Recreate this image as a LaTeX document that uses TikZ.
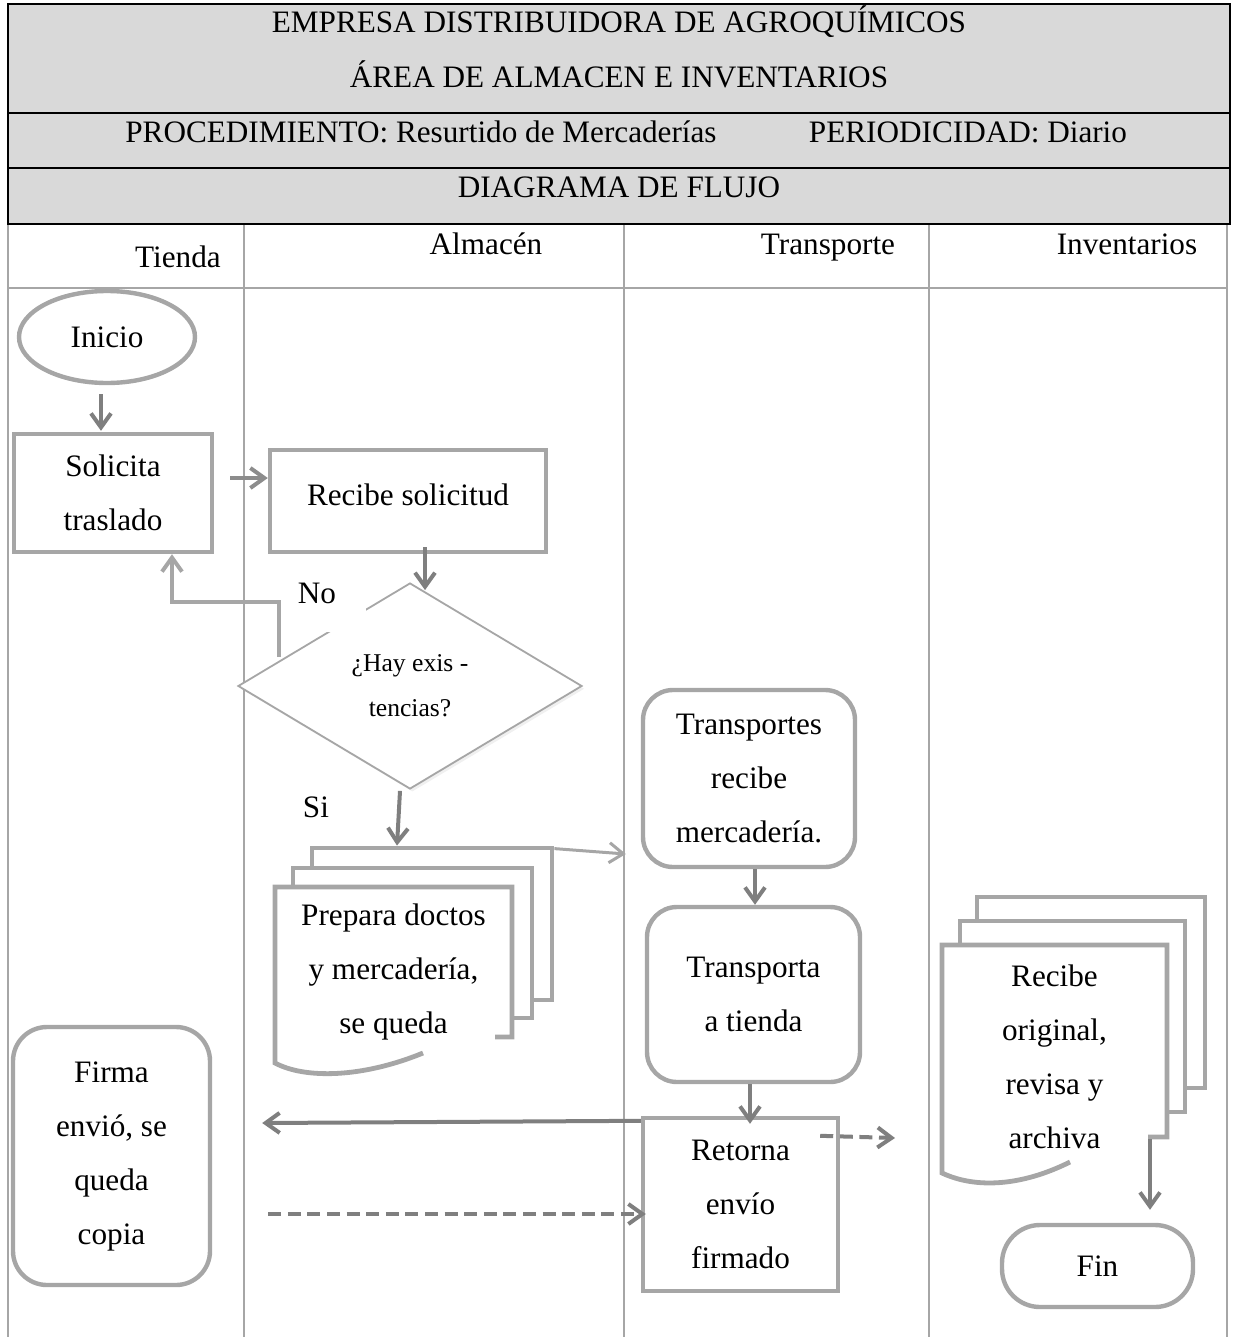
\documentclass[tikz,border=0pt]{standalone}
\usepackage{fontspec}
\setmainfont{Liberation Serif}
\usetikzlibrary{arrows.meta,shapes.geometric,shadows}
\definecolor{shapec}{HTML}{A6A6A6}
\definecolor{arrowc}{HTML}{7F7F7F}
\definecolor{midc}{HTML}{8C8C8C}
\definecolor{headfill}{HTML}{D9D9D9}
\newcommand\bodyfont{\fontsize{15.6}{27}\selectfont}
\newcommand\smallbody{\fontsize{12.8}{22.5}\selectfont}

\begin{document}
\begin{tikzpicture}[x=0.5pt,y=-0.5pt,
  hdr/.style={font=\bodyfont, inner sep=0pt, anchor=base},
  lane/.style={draw=shapec, line width=0.8pt},
  box/.style={draw=shapec, line width=2.2pt, fill=white, inner sep=0pt, align=center, font=\bodyfont},
  rbox/.style={box, rounded corners=15pt},
  sheet/.style={draw=shapec, line width=2.4pt, fill=white, inner sep=0pt},
  txt/.style={inner sep=0pt, align=center, font=\bodyfont},
  lbl/.style={inner sep=0pt, font=\bodyfont, anchor=base},
  flow/.style={draw=arrowc, line width=2pt, -{Straight Barb[length=7pt,width=10pt]}},
  dflow/.style={flow, dash pattern=on 6.5pt off 3.3pt}
]
\useasboundingbox (0,0) rectangle (1232,1337);

% swimlane grid
\draw[lane] (8,224) -- (8,1337) (244,224) -- (244,1337) (624,224) -- (624,1337)
            (929,224) -- (929,1337) (1227,224) -- (1227,1337);
\draw[lane, line width=1.3pt] (8,288) -- (1227,288);

% header block
\filldraw[fill=headfill, draw=black, line width=1.2pt] (8,4) rectangle (1230,224);
\draw[black, line width=1.4pt] (8,113) -- (1230,113) (8,168) -- (1230,168);
\node[hdr] (h1) at (619,33) {EMPRESA DISTRIBUIDORA DE AGROQUÍMICOS};
\node[hdr] (h2) at (619,88) {ÁREA DE ALMACEN E INVENTARIOS};
\node[hdr] (h3) at (421,143) {PROCEDIMIENTO: Resurtido de Mercaderías};
\node[hdr] (h4) at (968,143) {PERIODICIDAD: Diario};
\node[hdr] (h5) at (619,198) {DIAGRAMA DE FLUJO};

% lane titles
\node[hdr] (l1) at (178,267) {Tienda};
\node[hdr] (l2) at (486,255) {Almacén};
\node[hdr] (l3) at (828,255) {Transporte};
\node[hdr] (l4) at (1127,255) {Inventarios};

% Tienda / Almacén steps
\node[box, ellipse, minimum width=88pt, minimum height=46pt] (inicio) at (107,337) {Inicio};
\node[box, minimum width=99pt, minimum height=59pt] (sol) at (113,493) {Solicita\\traslado};
\node[box, minimum width=138pt, minimum height=51pt] (rec) at (408,501) {\raisebox{6pt}{Recibe solicitud}};
\node[diamond, draw=shapec, line width=0.9pt, fill=white, inner sep=0pt, align=center,
      font=\smallbody, minimum width=172pt, minimum height=103pt,
      drop shadow={opacity=0.12, shadow xshift=1.2pt, shadow yshift=-1.4pt}] (dec) at (410,686)
      {¿Hay exis -\\tencias?};
\fill[white] (290,572) rectangle (366,632);
\node[lbl] (no) at (317,603) {No};
\node[lbl] (si) at (316,817) {Si};

% stacked documents: Almacén
\node[sheet, minimum width=120pt, minimum height=76pt] (prepC) at (432,924) {};
\node[sheet, minimum width=119.5pt, minimum height=75pt] (prepB) at (412.5,943) {};
\filldraw[draw=shapec, fill=white, line width=2.4pt]
  (495,1037) -- (512,1037) -- (512,887) -- (275,887) -- (275,1063)
  .. controls (305,1079) and (362,1078) .. (423,1053);
\node[txt] (prep) at (393.5,972) {Prepara doctos\\y mercadería,\\se queda};

% Transporte steps
\node[rbox, minimum width=106pt, minimum height=88.5pt] (tr1) at (749,778.5) {Transportes\\recibe\\mercadería.};
\node[rbox, minimum width=106.5pt, minimum height=87.5pt] (tr2) at (753.5,994.5) {\raisebox{3.5pt}{\parbox{100pt}{\centering Transporta\\a tienda}}};
\node[box, minimum width=97.5pt, minimum height=86.5pt] (ret) at (740.5,1204.5) {Retorna\\envío\\firmado};
\node[rbox, rounded corners=17pt, minimum width=98.5pt, minimum height=129pt] (firma) at (111.5,1156) {Firma\\envió, se\\queda\\copia};

% stacked documents: Inventarios
\node[sheet, minimum width=114pt, minimum height=95.5pt] (invC) at (1091,992.5) {};
\node[sheet, minimum width=112.5pt, minimum height=95.5pt] (invB) at (1072.5,1016.5) {};
\filldraw[draw=shapec, fill=white, line width=2.4pt]
  (1148,1137) -- (1167,1137) -- (1167,945) -- (942,945) -- (942,1173)
  .. controls (976,1189) and (1022,1186) .. (1070,1162);
\node[txt] (inv) at (1054.5,1057) {Recibe\\original,\\revisa y\\archiva};
\node[box, rounded corners=19pt, minimum width=95.5pt, minimum height=41pt] (fin) at (1097.5,1266) {Fin};

\coordinate (toinv) at (895,1138);

% connectors
\draw[flow] ([shift={(-6,9)}]inicio.south) -- ([shift={(-12,-1)}]sol.north);
\draw[flow, draw=midc] ([shift={(16,-15)}]sol.east) -- ([shift={(0,-23)}]rec.west);
\draw[flow] ([shift={(17,-7)}]rec.south) -- ([shift={(15,8)}]dec.north);
\draw[flow, draw=shapec] ([shift={(-131,-29)}]dec.center) -- ++(0,-55) -| ([shift={(59,0)}]sol.south);
\draw[flow] ([shift={(-10,1)}]dec.south) -- ([shift={(-35,0)}]prepC.north);
\draw[flow, draw=shapec, line width=1.5pt] ([shift={(0,3)}]prepC.north east) -- ([shift={(-15,75.5)}]tr1.west);
\draw[flow] ([shift={(6,0)}]tr1.south) -- ([shift={(1.5,0)}]tr2.north);
\draw[flow] ([shift={(-3.5,0)}]tr2.south) -- ([shift={(9.5,8)}]ret.north);
\draw[flow] ([shift={(0,5)}]ret.north west) -- ([shift={(50,-33)}]firma.east);
\draw[dflow] ([shift={(56,58)}]firma.east) -- ([shift={(5,9.5)}]ret.west);
\draw[dflow] ([shift={(-20,20)}]ret.north east) -- (toinv);
\draw[flow] ([shift={(-37.4,25)}]invB.south east) -- ([shift={(52.5,-13)}]fin.north);
\end{tikzpicture}
\end{document}
